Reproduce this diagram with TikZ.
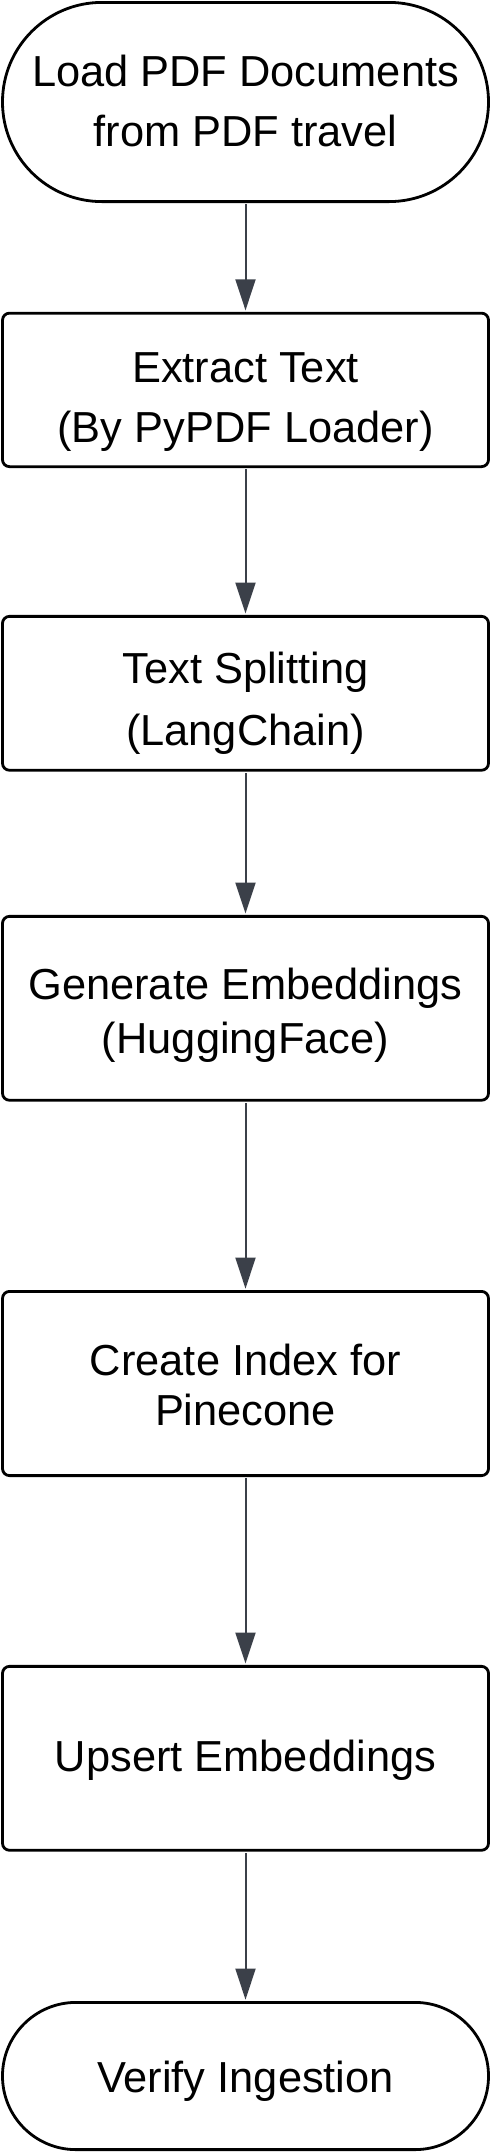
\documentclass[tikz,border=0pt]{standalone}
\usepackage{fontspec}
\setmainfont{Liberation Sans}
\usetikzlibrary{arrows.meta}
\definecolor{arrowc}{RGB}{59,64,73}
\begin{document}
\begin{tikzpicture}[x=1pt,y=-1pt,
  box/.style={draw=black, line width=2.8pt, fill=white, rounded corners=7pt, minimum width=486pt, inner sep=0pt},
  term/.style={draw=black, line width=2.8pt, fill=white, minimum width=486pt, inner sep=0pt},
  lbl/.style={font=\fontsize{43.4}{60}\selectfont, anchor=base, inner sep=0pt},
  conn/.style={draw=arrowc, line width=2pt, -{Triangle[length=31pt,width=20pt]}, shorten >=1.4pt, shorten <=1.4pt}]
\useasboundingbox (0,0) rectangle (491,2153);
% shapes
\node[term, minimum height=199.2pt, rounded corners=99.5pt] (n1) at (245.5,102) {};
\node[box, minimum height=153.5pt] (n2) at (245.5,389.9) {};
\node[box, minimum height=153.9pt] (n3) at (245.5,693.3) {};
\node[box, minimum height=183.9pt] (n4) at (245.5,1008.3) {};
\node[box, minimum height=184.2pt] (n5) at (245.5,1383.5) {};
\node[box, minimum height=183.9pt] (n6) at (245.5,1758.3) {};
\node[term, minimum height=147.2pt, rounded corners=73.5pt] (n7) at (245.5,2076) {};
% texts
\node[lbl] (t1a) at (245.5,86) {Load PDF Documents};
\node[lbl] (t1b) at (245.5,146) {from PDF travel};
\node[lbl] (t2a) at (245.5,382.3) {Extract Text};
\node[lbl] (t2b) at (245.5,442.7) {(By PyPDF Loader)};
\node[lbl] (t3a) at (245.5,683.3) {Text Splitting};
\node[lbl] (t3b) at (245.5,745) {(LangChain)};
\node[lbl] (t4a) at (245.5,999.3) {Generate Embeddings};
\node[lbl] (t4b) at (245.5,1053.3) {(HuggingFace)};
\node[lbl] (t5a) at (245.5,1375) {Create Index for};
\node[lbl] (t5b) at (245.5,1425.7) {Pinecone};
\node[lbl] (t6) at (245.5,1771.7) {Upsert Embeddings};
\node[lbl] (t7) at (245.5,2092.3) {Verify Ingestion};
% connectors
\draw[conn] (n1) -- (n2);
\draw[conn] (n2) -- (n3);
\draw[conn] (n3) -- (n4);
\draw[conn] (n4) -- (n5);
\draw[conn] (n5) -- (n6);
\draw[conn] (n6) -- (n7);
\end{tikzpicture}
\end{document}
